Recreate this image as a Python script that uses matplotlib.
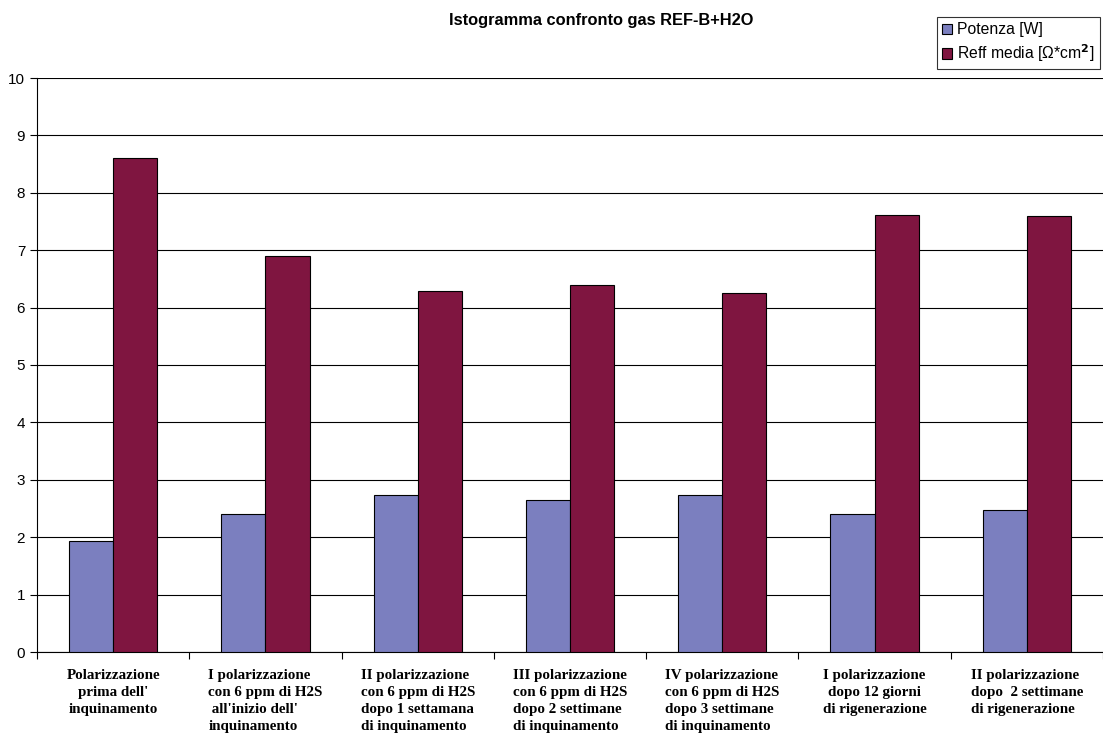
import numpy as np
import matplotlib.pyplot as plt

plt.rcParams['font.family'] = ['Liberation Sans', 'DejaVu Sans']

categories = [
    "Polarizzazione\nprima dell'\ninquinamento",
    "I polarizzazione\ncon 6 ppm di H2S\n all'inizio dell'\ninquinamento",
    "II polarizzazione\ncon 6 ppm di H2S\ndopo 1 settamana\ndi inquinamento",
    "III polarizzazione\ncon 6 ppm di H2S\ndopo 2 settimane\ndi inquinamento",
    "IV polarizzazione\ncon 6 ppm di H2S\ndopo 3 settimane\ndi inquinamento",
    "I polarizzazione\ndopo 12 giorni\ndi rigenerazione",
    "II polarizzazione\ndopo  2 settimane\ndi rigenerazione",
]
potenza = [1.93, 2.40, 2.74, 2.65, 2.74, 2.40, 2.47]
reff = [8.61, 6.90, 6.29, 6.39, 6.25, 7.61, 7.59]

fig = plt.figure(figsize=(11.03, 7.40), dpi=100)
ax = fig.add_axes([37 / 1103, 1 - 652 / 740, 1 - 37 / 1103, (652 - 78) / 740])

x = np.arange(len(categories))
w = 0.29
ax.bar(x - w / 2, potenza, w, color='#7b7fbf', edgecolor='black', linewidth=0.8,
       label='Potenza [W]', zorder=3)
ax.bar(x + w / 2, reff, w, color='#7f1540', edgecolor='black', linewidth=0.8,
       label='Reff media [Ω*cm$^\\mathbf{2}$]', zorder=3)

ax.set_xlim(-0.5, len(categories) - 0.5)
ax.set_ylim(0, 10)
ax.set_yticks(range(0, 11))
ax.yaxis.grid(True, color='black', linewidth=0.8, zorder=0)
ax.tick_params(axis='y', labelsize=11, length=5, direction='out')
for s in ['top', 'right']:
    ax.spines[s].set_visible(False)

ax.set_xticks(np.arange(-0.5, len(categories), 1))
ax.set_xticklabels([])
ax.tick_params(axis='x', length=5)
aligns = ['center', 'left', 'left', 'left', 'left', 'center', 'left']
for i, lab in enumerate(categories):
    ax.text(i, -0.3, lab, ha='center', va='top', fontsize=10.8, multialignment=aligns[i],
            family='Liberation Serif', fontweight='bold', linespacing=1.38)

fig.text(0.545, 0.972, 'Istogramma confronto gas REF-B+H2O', ha='center', va='center',
         fontsize=11.8, fontweight='bold')

leg = fig.legend(loc='upper right', bbox_to_anchor=(1100 / 1103, 1 - 17 / 740),
                 borderaxespad=0, fontsize=11.3,
                 frameon=True, fancybox=False, edgecolor='black', handlelength=0.65,
                 handleheight=0.65, handletextpad=0.3, borderpad=0.35, labelspacing=0.3)
leg.get_frame().set_linewidth(0.8)

fig.savefig('out.png', dpi=100)
